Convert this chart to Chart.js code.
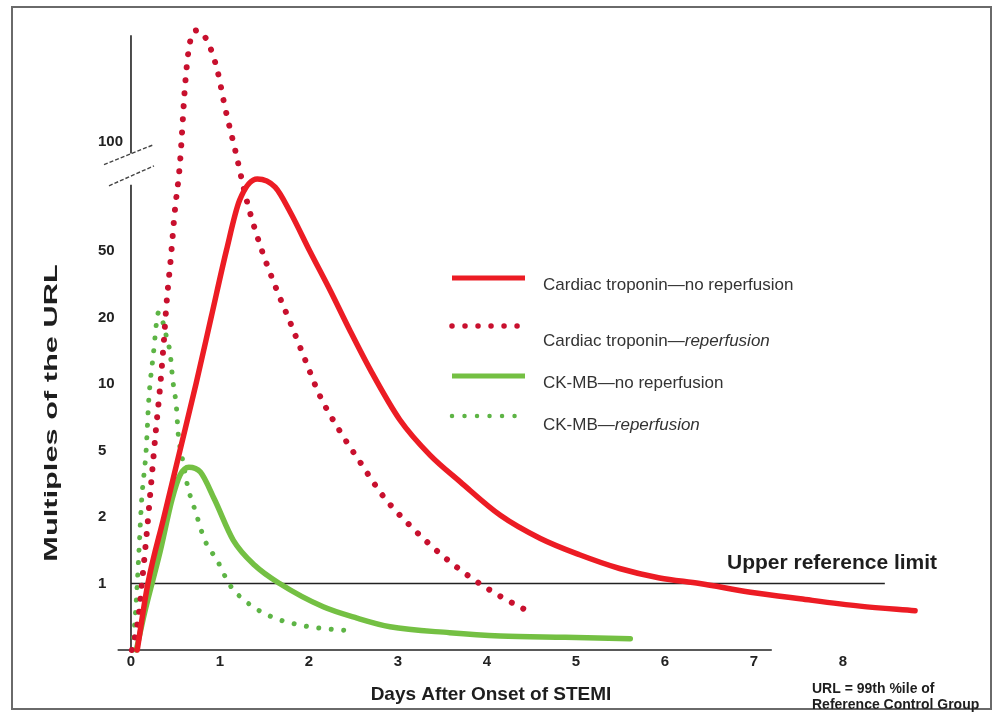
<!DOCTYPE html>
<html><head><meta charset="utf-8">
<script src="https://cdn.jsdelivr.net/npm/chart.js@4.4.1/dist/chart.umd.min.js"></script>
<style>html,body{margin:0;padding:0;background:#fff;}#wrap{width:999px;height:718px;position:relative;}</style>
</head><body><div id="wrap"><canvas id="c" width="999" height="718"></canvas></div>
<script>
// ---- data ----
const xTickLabels = ['0','1','2','3','4','5','6','7','8'];
const yTickLabels = ['1','2','5','10','20','50','100'];
const yTickValues = [1, 2, 5, 10, 20, 50, 100];
// evenly spaced slots of the broken axis (100 sits above the break)
const yTickSlots = [1, 2, 3, 4, 5, 6, 7.65];

const tropNoReperfDays = [0.07,0.19,0.37,0.55,0.73,0.90,1.07,1.22,1.42,1.62,1.79,2.01,2.24,2.46,2.69,3.02,3.36,3.70,4.15,4.60,5.04,5.49,5.94,6.39,6.96,7.52,8.19,8.81];
const tropNoReperfVals = [0,1,2,5,10,20,50,69,79,75,64,50,29,17.5,11.6,6.9,4.7,3.25,2.05,1.6,1.35,1.17,1.06,1.0,0.87,0.77,0.66,0.59];

const tropReperfDays = [0.01,0.08,0.13,0.18,0.22,0.28,0.33,0.37,0.40,0.45,0.49,0.55,0.61,0.66,0.75,0.87,0.97,1.06,1.17,1.30,1.45,1.62,1.79,1.96,2.12,2.35,2.57,2.85,3.13,3.47,3.81,4.16,4.48];
const tropReperfVals = [0,0.45,1.07,1.74,2.9,6.2,10,15.8,24.5,47,63.5,87,145,186,202,186,157,123,95,69,52,31,19,12.8,8.9,6.1,4.3,2.6,1.84,1.37,1.07,0.8,0.57];

const ckNoReperfDays = [0.06,0.16,0.33,0.46,0.55,0.65,0.78,0.94,1.15,1.39,1.67,2.16,2.54,2.91,3.58,4.15,4.88,5.61];
const ckNoReperfVals = [0,0.6,1.41,2.54,3.56,3.98,3.72,2.54,1.57,1.21,1.0,0.65,0.48,0.35,0.26,0.21,0.19,0.17];

const ckReperfDays = [0.02,0.06,0.09,0.12,0.17,0.20,0.25,0.31,0.36,0.40,0.44,0.47,0.51,0.53,0.55,0.58,0.64,0.72,0.83,0.97,1.11,1.31,1.58,1.88,2.18,2.48];
const ckReperfVals = [0,0.75,1.41,2.54,5,8.5,13.5,21.5,19,16.3,13.8,10.4,7.9,6.0,5.2,4.4,3.0,2.2,1.57,1.27,0.98,0.71,0.50,0.38,0.32,0.29];

const seriesNames = ['Cardiac troponin\u2014no reperfusion','Cardiac troponin\u2014reperfusion','CK-MB\u2014no reperfusion','CK-MB\u2014reperfusion'];

// map a multiple of the URL onto the chart's evenly spaced (broken) axis
function toSlot(v){
  if (v <= 1) return v;
  for (let i = 0; i < yTickValues.length - 1; i++){
    if (v <= yTickValues[i+1]){
      return yTickSlots[i] + (yTickSlots[i+1]-yTickSlots[i]) * Math.log(v/yTickValues[i]) / Math.log(yTickValues[i+1]/yTickValues[i]);
    }
  }
  const n = yTickValues.length - 1;
  const per = (yTickSlots[n]-yTickSlots[n-1]) / Math.log2(yTickValues[n]/yTickValues[n-1]);
  return yTickSlots[n] + per * Math.log2(v / yTickValues[n]);
}
const pts = (days, vals) => days.map((d,i) => ({x: d, y: toSlot(vals[i])}));

const FONT = '"Liberation Sans", Arial, Helvetica, sans-serif';
const RED = '#ec1c24', RED_DOT = '#c8102e', GREEN = '#74c043', GREEN_DOT = '#5db445';
const DOT_R = [0.01, 13], DOT_G = [0.01, 12.5];

const decor = {
  id: 'decor',
  beforeDraw(chart){
    const ctx = chart.ctx;
    ctx.save();
    ctx.fillStyle = '#fff';
    ctx.fillRect(0,0,chart.width,chart.height);
    ctx.strokeStyle = '#6a6a6a'; ctx.lineWidth = 2;
    ctx.strokeRect(12, 7, 979, 702);
    ctx.restore();
  },
  beforeDatasetsDraw(chart){
    const ctx = chart.ctx, xs = chart.scales.x, ys = chart.scales.y;
    ctx.save();
    ctx.strokeStyle = '#222'; ctx.lineWidth = 1.6;
    const x0 = xs.getPixelForValue(0), yb = ys.getPixelForValue(0);
    // x axis
    ctx.beginPath(); ctx.moveTo(xs.getPixelForValue(-0.15), yb); ctx.lineTo(xs.getPixelForValue(7.2), yb); ctx.stroke();
    // y axis with break
    ctx.beginPath();
    ctx.moveTo(x0, yb); ctx.lineTo(x0, ys.getPixelForValue(7.0));
    ctx.moveTo(x0, ys.getPixelForValue(7.47)); ctx.lineTo(x0, ys.getPixelForValue(9.25));
    ctx.stroke();
    // break marks
    ctx.setLineDash([4,2]); ctx.lineWidth = 1.4; ctx.strokeStyle = '#444';
    [7.47, 7.15].forEach((s,k) => {
      const yc = ys.getPixelForValue(s);
      ctx.beginPath(); ctx.moveTo(x0 - 27 + k*5, yc + 11); ctx.lineTo(x0 + 23, yc - 9); ctx.stroke();
    });
    ctx.setLineDash([]);
    // upper reference limit line
    ctx.lineWidth = 1.5; ctx.strokeStyle = '#222';
    const y1 = ys.getPixelForValue(toSlot(1));
    ctx.beginPath(); ctx.moveTo(x0, y1); ctx.lineTo(xs.getPixelForValue(8.47), y1); ctx.stroke();
    ctx.restore();
  },
  afterDraw(chart){
    const ctx = chart.ctx;
    ctx.save();
    ctx.fillStyle = '#1e1e1e';
    // reference limit label
    ctx.font = 'bold 21px ' + FONT; ctx.textBaseline = 'middle'; ctx.textAlign = 'left';
    ctx.fillText('Upper reference limit', 727, 563);
    // x title
    ctx.font = 'bold 19px ' + FONT; ctx.textAlign = 'center';
    ctx.fillText('Days After Onset of STEMI', 491, 695);
    // y title (stretched as in the original)
    ctx.save();
    ctx.translate(52, 413); ctx.rotate(-Math.PI/2); ctx.scale(1.62, 1);
    ctx.font = 'bold 19px ' + FONT; ctx.textAlign = 'center';
    ctx.fillText('Multiples of the URL', 0, 0);
    ctx.restore();
    // footnote
    ctx.font = 'bold 14px ' + FONT; ctx.textAlign = 'left';
    ctx.fillText('URL = 99th %ile of', 812, 689);
    ctx.fillText('Reference Control Group', 812, 705);
    // legend
    const items = [
      {y: 278, ty: 285, color: RED, dash: [], w: 5, a: 'Cardiac troponin\u2014no reperfusion', b: ''},
      {y: 326, ty: 341, color: RED_DOT, dash: DOT_R, w: 5.5, a: 'Cardiac troponin\u2014', b: 'reperfusion'},
      {y: 376, ty: 383, color: GREEN, dash: [], w: 5, a: 'CK-MB\u2014no reperfusion', b: ''},
      {y: 416, ty: 425, color: GREEN_DOT, dash: DOT_G, w: 4.5, a: 'CK-MB\u2014', b: 'reperfusion'}
    ];
    items.forEach(it => {
      ctx.strokeStyle = it.color; ctx.lineWidth = it.w; ctx.lineCap = it.dash.length ? 'round' : 'butt';
      ctx.setLineDash(it.dash);
      ctx.beginPath(); ctx.moveTo(452, it.y); ctx.lineTo(525, it.y); ctx.stroke();
      ctx.setLineDash([]);
      ctx.fillStyle = '#333';
      ctx.font = '17px ' + FONT; ctx.textAlign = 'left'; ctx.textBaseline = 'middle';
      ctx.fillText(it.a, 543, it.ty);
      if (it.b){
        const w = ctx.measureText(it.a).width;
        ctx.font = 'italic 17px ' + FONT;
        ctx.fillText(it.b, 543 + w, it.ty);
      }
    });
    ctx.restore();
  }
};

const ds = (label, data, color, width, dash, order) => ({
  label, data, borderColor: color, backgroundColor: color, borderWidth: width,
  borderDash: dash, borderCapStyle: 'round', borderJoinStyle: 'round',
  pointRadius: 0, pointHoverRadius: 0, fill: false, cubicInterpolationMode: 'monotone', clip: false, order
});

new Chart(document.getElementById('c'), {
  type: 'line',
  data: {
    datasets: [
      ds(seriesNames[0], pts(tropNoReperfDays, tropNoReperfVals), RED, 5.5, [], 1),
      ds(seriesNames[1], pts(tropReperfDays, tropReperfVals), RED_DOT, 6, DOT_R, 2),
      ds(seriesNames[2], pts(ckNoReperfDays, ckNoReperfVals), GREEN, 5.5, [], 3),
      ds(seriesNames[3], pts(ckReperfDays, ckReperfVals), GREEN_DOT, 5, DOT_G, 4)
    ]
  },
  options: {
    responsive: false, animation: false, devicePixelRatio: 1,
    layout: {padding: {left: 98, top: 11.6, right: 22.5, bottom: 0}},
    plugins: {legend: {display: false}, tooltip: {enabled: false}, title: {display: false}},
    scales: {
      x: {
        type: 'linear', min: -0.056, max: 9.5,
        grid: {display: false, drawTicks: false}, border: {display: false},
        afterBuildTicks: s => { s.ticks = xTickLabels.map((t,i) => ({value: i})); },
        afterFit: s => { s.height = 68; },
        ticks: {autoSkip: false, maxRotation: 0, padding: 3, color: '#222',
          font: {family: FONT, size: 15, weight: 'bold'},
          callback: (v, i) => xTickLabels[i]}
      },
      y: {
        type: 'linear', min: 0, max: 9.6,
        grid: {display: false, drawTicks: false}, border: {display: false},
        afterBuildTicks: s => { s.ticks = yTickSlots.map(v => ({value: v})); },
        afterFit: s => { s.width = 28; },
        ticks: {autoSkip: false, crossAlign: 'far', color: '#222',
          font: {family: FONT, size: 15, weight: 'bold'},
          callback: (v, i) => yTickLabels[i]}
      }
    }
  },
  plugins: [decor]
});
</script></body></html>
